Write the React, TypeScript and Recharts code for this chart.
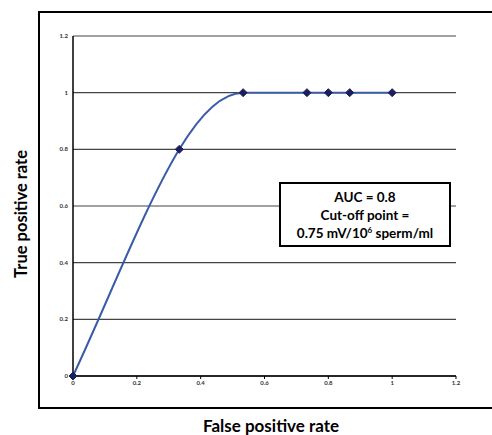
import { LineChart, Line, XAxis, YAxis, CartesianGrid } from 'recharts';

const falsePositiveRate = [0, 0.333, 0.533, 0.733, 0.8, 0.867, 1];
const truePositiveRate = [0, 0.8, 1, 1, 1, 1, 1];
const axisTicks = [0, 0.2, 0.4, 0.6, 0.8, 1, 1.2];

const rocData = falsePositiveRate.map((fpr, i) => ({ fpr, tpr: truePositiveRate[i] }));

const FONT = 'Lato, "Open Sans", sans-serif';
const tickStyle = { fill: '#333', fontSize: 6, fontWeight: 700, fontFamily: FONT };

// smoothed line: cubic hermite, centred tangents, flattened where the curve levels off
function smoothCurve(context: any) {
  let pts: number[][] = [];
  return {
    areaStart() {},
    areaEnd() {},
    lineStart() {
      pts = [];
    },
    point(x: number, y: number) {
      pts.push([+x, +y]);
    },
    lineEnd() {
      const n = pts.length;
      if (!n) return;
      const sec: number[] = [];
      for (let i = 0; i < n - 1; i++) {
        sec.push((pts[i + 1][1] - pts[i][1]) / (pts[i + 1][0] - pts[i][0]));
      }
      const m: number[] = [];
      for (let i = 0; i < n; i++) {
        if (i === 0) m.push(sec[0] ?? 0);
        else if (i === n - 1) m.push(sec[n - 2]);
        else if (sec[i - 1] * sec[i] <= 0) m.push(0);
        else m.push((pts[i + 1][1] - pts[i - 1][1]) / (pts[i + 1][0] - pts[i - 1][0]));
      }
      context.moveTo(pts[0][0], pts[0][1]);
      for (let i = 0; i < n - 1; i++) {
        const dx = (pts[i + 1][0] - pts[i][0]) / 3;
        context.bezierCurveTo(
          pts[i][0] + dx,
          pts[i][1] + m[i] * dx,
          pts[i + 1][0] - dx,
          pts[i + 1][1] - m[i + 1] * dx,
          pts[i + 1][0],
          pts[i + 1][1],
        );
      }
    },
  };
}

function Diamond(props: any) {
  const { cx, cy, index } = props;
  if (cx == null || cy == null) return null;
  const r = 4;
  return (
    <polygon
      key={`d-${index}`}
      points={`${cx},${cy - r} ${cx + r},${cy} ${cx},${cy + r} ${cx - r},${cy}`}
      fill="#1c1f5e"
      stroke="#1c1f5e"
    />
  );
}

export default function App() {
  return (
    <div
      style={{
        position: 'absolute',
        left: 0,
        top: 0,
        width: 492,
        height: 435,
        background: '#fff',
        overflow: 'hidden',
        fontFamily: FONT,
      }}
    >
      <div
        style={{
          position: 'absolute',
          left: 38,
          top: 11,
          width: 470,
          height: 394,
          border: '2.5px solid #000',
        }}
      />
      <LineChart
        width={492}
        height={435}
        data={rocData}
        margin={{ top: 36, right: 36, bottom: 39, left: 43 }}
        style={{ position: 'absolute', left: 0, top: 0 }}
      >
        <CartesianGrid vertical={false} stroke="#444" strokeWidth={1.2} />
        <XAxis
          dataKey="fpr"
          type="number"
          domain={[0, 1.2]}
          ticks={axisTicks}
          height={20}
          tick={tickStyle}
          tickSize={3}
          tickLine={{ stroke: '#000' }}
          axisLine={{ stroke: '#000', strokeWidth: 1.5 }}
          tickFormatter={(v) => String(v)}
        />
        <YAxis
          dataKey="tpr"
          type="number"
          domain={[0, 1.2]}
          ticks={axisTicks}
          width={30}
          tick={tickStyle}
          tickSize={3}
          tickLine={false}
          axisLine={{ stroke: '#000', strokeWidth: 1.5 }}
          tickFormatter={(v) => String(v)}
        />
        <Line
          type={smoothCurve as any}
          dataKey="tpr"
          stroke="#3a5ba8"
          strokeWidth={2}
          dot={Diamond}
          activeDot={false}
          isAnimationActive={false}
        />
      </LineChart>
      <div
        style={{
          position: 'absolute',
          left: 21,
          top: 214,
          transform: 'translate(-50%, -50%) rotate(-90deg)',
          whiteSpace: 'nowrap',
          fontSize: 16.5,
          lineHeight: '17px',
          fontWeight: 700,
          color: '#000',
        }}
      >
        True positive rate
      </div>
      <div
        style={{
          position: 'absolute',
          left: 271,
          top: 425,
          transform: 'translate(-50%, -50%)',
          whiteSpace: 'nowrap',
          fontSize: 17,
          lineHeight: '17px',
          fontWeight: 700,
          color: '#000',
        }}
      >
        False positive rate
      </div>
      <div
        style={{
          position: 'absolute',
          left: 279,
          top: 182,
          width: 168,
          height: 61,
          border: '2px solid #000',
          background: '#fff',
          display: 'flex',
          flexDirection: 'column',
          justifyContent: 'center',
          alignItems: 'center',
          fontSize: 13.5,
          fontWeight: 700,
          lineHeight: '18px',
          color: '#000',
        }}
      >
        <div>AUC = 0.8</div>
        <div>Cut-off point =</div>
        <div>
          0.75 mV/10<sup style={{ fontSize: 8, lineHeight: 0 }}>6</sup> sperm/ml
        </div>
      </div>
    </div>
  );
}
